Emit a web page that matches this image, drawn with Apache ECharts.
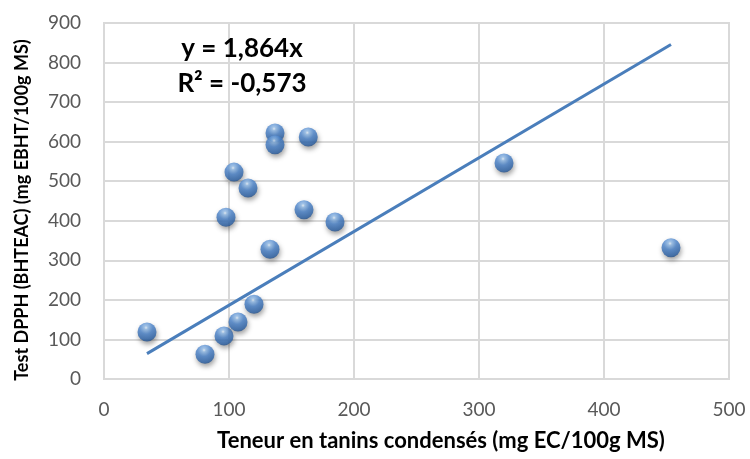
<!DOCTYPE html>
<html>
<head>
<meta charset="utf-8">
<script src="https://cdn.jsdelivr.net/npm/echarts@6/dist/echarts.min.js"></script>
<style>
  html, body { margin: 0; padding: 0; background: #ffffff; }
  #chart { width: 750px; height: 459px; }
</style>
</head>
<body>
<div id="chart"></div>
<script>
// Condensed tannin content (mg EC/100g MS) vs DPPH test (mg EBHT/100g MS)
const tanins = [34.4, 80.8, 96, 107.2, 120, 97.6, 104, 115.2, 132.8, 136.8, 136.8, 163.4, 160, 184.8, 320, 453.6];
const dpph   = [119, 62.5, 109, 144, 189, 409, 523, 483, 328, 622, 592, 612, 428, 397, 546, 332];

// Linear fit through the origin, as stated on the chart
const slope = 1.864;
const equationLines = ['y = 1,864x', 'R² = -0,573'];

const xTitle = 'Teneur en tanins condensés (mg EC/100g MS)';
const yTitle = 'Test DPPH (BHTEAC) (mg EBHT/100g MS)';

const xTicks = [0, 100, 200, 300, 400, 500];
const yTicks = [0, 100, 200, 300, 400, 500, 600, 700, 800, 900];

const points = tanins.map((x, i) => [x, dpph[i]]);
const xMin = Math.min(...tanins);
const xMax = Math.max(...tanins);
const trend = [[xMin, slope * xMin], [xMax, slope * xMax]];

const font = 'Lato, "Open Sans", "Liberation Sans", sans-serif';
const gridColor = '#d9d9d9';

// Glossy sphere look for the markers
const sphere = new echarts.graphic.RadialGradient(0.45, 0.28, 0.8, [
  { offset: 0, color: '#e6f2fd' },
  { offset: 0.12, color: '#93bdea' },
  { offset: 0.42, color: '#4a83cb' },
  { offset: 0.8, color: '#2c62a7' },
  { offset: 1, color: '#1b3e6e' }
]);

const chart = echarts.init(document.getElementById('chart'), null, { renderer: 'canvas' });

chart.setOption({
  animation: false,
  backgroundColor: '#ffffff',
  grid: { left: 104, right: 21, top: 23, bottom: 80, containLabel: false },
  xAxis: {
    type: 'value',
    min: xTicks[0],
    max: xTicks[xTicks.length - 1],
    interval: 100,
    axisLine: { show: true, lineStyle: { color: gridColor, width: 2 } },
    axisTick: { show: false },
    axisLabel: { margin: 21, fontFamily: font, fontSize: 19, color: '#595959' },
    splitLine: { show: true, lineStyle: { color: gridColor, width: 2 } }
  },
  yAxis: {
    type: 'value',
    min: yTicks[0],
    max: yTicks[yTicks.length - 1],
    interval: 100,
    axisLine: { show: true, lineStyle: { color: gridColor, width: 2 } },
    axisTick: { show: false },
    axisLabel: { margin: 23, fontFamily: font, fontSize: 19, color: '#595959' },
    splitLine: { show: true, lineStyle: { color: gridColor, width: 2 } }
  },
  graphic: [
    {
      type: 'rect',
      shape: { x: 104, y: 23, width: 625, height: 356 },
      style: { fill: 'none', stroke: gridColor, lineWidth: 2 },
      silent: true,
      z: 0
    },
    {
      type: 'text',
      x: 242,
      y: 49,
      style: { text: equationLines[0], font: 'bold 26px ' + font, fill: '#000000', align: 'center', verticalAlign: 'middle' },
      z: 10
    },
    {
      type: 'text',
      x: 242,
      y: 84,
      style: { text: equationLines[1], font: 'bold 26px ' + font, fill: '#000000', align: 'center', verticalAlign: 'middle' },
      z: 10
    },
    {
      type: 'text',
      x: 441,
      y: 441,
      style: { text: xTitle, font: 'bold 22px ' + font, fill: '#000000', align: 'center', verticalAlign: 'middle' },
      z: 10
    },
    {
      type: 'text',
      x: 22,
      y: 210,
      rotation: Math.PI / 2,
      style: { text: yTitle, font: 'bold 18px ' + font, fill: '#000000', align: 'center', verticalAlign: 'middle' },
      z: 10
    }
  ],
  series: [
    {
      type: 'line',
      data: trend,
      showSymbol: false,
      lineStyle: { color: '#4a7ebb', width: 3 },
      z: 2
    },
    {
      type: 'scatter',
      data: points,
      symbol: 'circle',
      symbolSize: 19,
      itemStyle: {
        color: sphere,
        shadowBlur: 5,
        shadowColor: 'rgba(0,0,0,0.45)',
        shadowOffsetX: 1,
        shadowOffsetY: 3
      },
      z: 3
    }
  ]
});
</script>
</body>
</html>
